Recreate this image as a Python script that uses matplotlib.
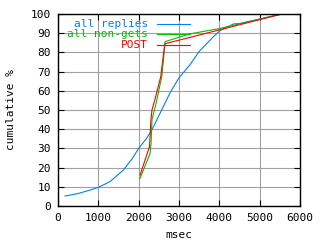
import matplotlib
matplotlib.use("Agg")
import matplotlib.pyplot as plt
from matplotlib.lines import Line2D

# cumulative response time distribution (msec, %)
all_ms = [174, 500, 794, 1000, 1290, 1620, 1828, 2000, 2200, 2325, 2449, 2779, 3000,
          3275, 3500, 3854, 4020, 4350, 4516, 5550]
all_pct = [5.2, 6.5, 8.3, 9.7, 12.7, 18.7, 24.3, 30.0, 35.3, 39.6, 44.8, 59.0, 66.8,
           73.6, 80.5, 88.2, 91.4, 94.8, 95.1, 100]

nonget_ms = [2035, 2283, 2308, 2330, 2432, 2573, 2614, 2655, 3258, 4020, 5550]
nonget_pct = [14.4, 27.4, 32.7, 45.0, 53.5, 67.4, 76.0, 85.6, 89.6, 92.5, 100]

post_ms = [2035, 2270, 2300, 2330, 2410, 2548, 2597, 2650, 5550]
post_pct = [16.1, 31.0, 44.0, 50.0, 56.0, 67.4, 76.0, 84.5, 100]

labels = ["all replies", "all non-gets", "POST"]
colors = ["#0080ff", "#00c000", "#ff0000"]

mono = "DejaVu Sans Mono"
fs = 8

fig = plt.figure(figsize=(3.2, 2.4), dpi=100)
ax = fig.add_axes([58/320, 1 - 206/240, 242/320, 192/240])

series = [(all_ms, all_pct), (nonget_ms, nonget_pct), (post_ms, post_pct)]
for (xs, ys), c in zip(series, colors):
    ax.plot(xs, ys, color=c, lw=0.8)

ax.set_xlim(0, 6000)
ax.set_ylim(0, 100)
ax.set_xticks(range(0, 6001, 1000))
ax.set_yticks(range(0, 101, 10))
ax.grid(True, color="#a0a0a0", lw=0.8)
ax.tick_params(direction="in", length=4, width=0.8, top=True, right=True,
               labelsize=fs, pad=5)
for lab in ax.get_xticklabels() + ax.get_yticklabels():
    lab.set_family(mono)
for s in ax.spines.values():
    s.set_linewidth(1.0)

ax.set_xlabel("msec", fontsize=fs, family=mono, labelpad=5)
ax.set_ylabel("cumulative %", fontsize=fs, family=mono, labelpad=11)

# gnuplot-style key: right-aligned text, sample line on its right
for i, (lab, c) in enumerate(zip(labels, colors)):
    yk = 0.948 - i * 0.0545
    ax.text(0.372, yk, lab, transform=ax.transAxes, ha="right", va="center",
            color=c, fontsize=fs, family=mono)
    ax.add_line(Line2D([0.409, 0.545], [yk, yk], transform=ax.transAxes,
                       color=c, lw=0.8))

fig.savefig("out.png", dpi=100)
